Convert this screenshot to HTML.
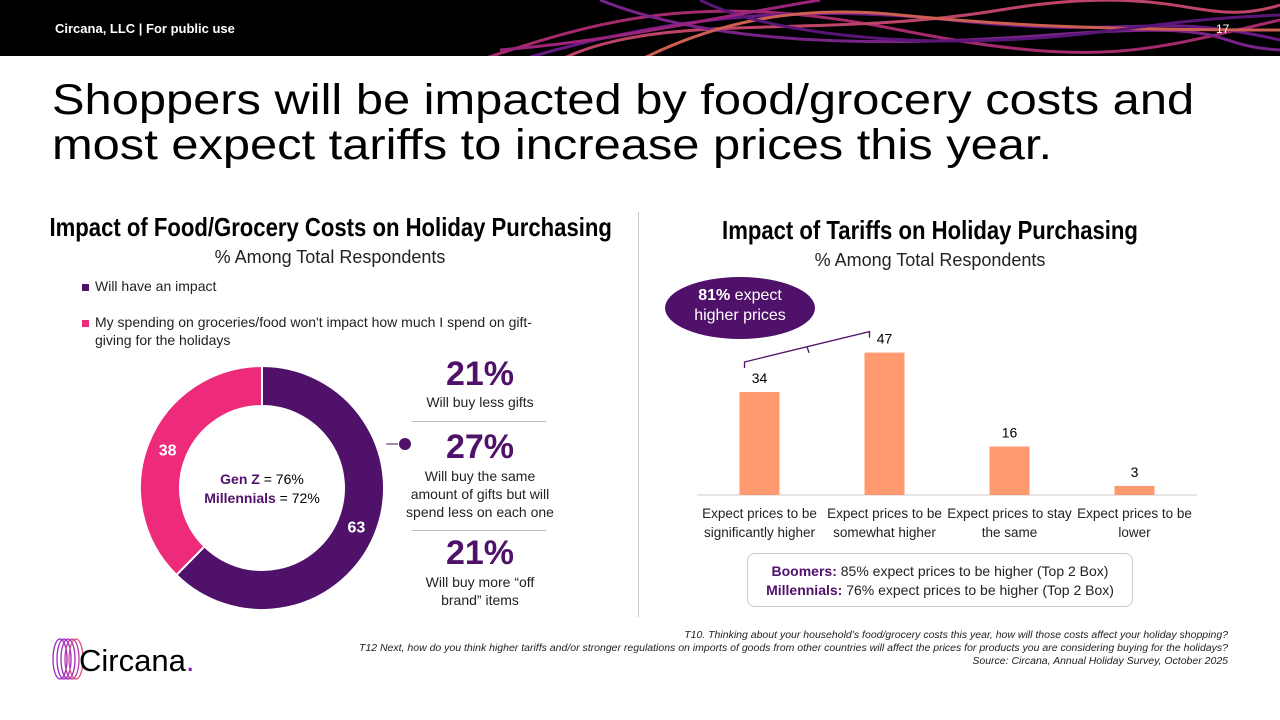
<!DOCTYPE html>
<html><head><meta charset="utf-8">
<style>
body{margin:0;width:1280px;height:720px;background:#fff;font-family:"Liberation Sans",sans-serif;position:relative;overflow:hidden}
.abs{position:absolute}
.cond{font-family:"Liberation Sans Narrow","Liberation Sans",sans-serif;white-space:nowrap}
</style></head><body>
<svg class="abs" style="left:0;top:0" width="1280" height="56">
<rect width="1280" height="56" fill="#000"/>
<g fill="none" stroke-width="3" opacity="0.85">
<path d="M480 60 C600 20 700 -10 900 30 S1150 50 1280 20" stroke="#c2327f"/>
<path d="M520 60 C620 30 760 0 950 20 S1150 10 1280 40" stroke="#7a1f9c"/>
<path d="M560 60 C660 10 820 40 1000 10 S1200 30 1280 5" stroke="#e0507a"/>
<path d="M600 0 C700 40 850 50 1050 35 S1200 45 1280 50" stroke="#8e2aa0"/>
<path d="M640 60 C720 20 800 5 900 15 S1100 30 1280 30" stroke="#f07060"/>
<path d="M700 0 C760 30 880 45 1000 40 S1150 20 1280 15" stroke="#6a1a8c"/>
<path d="M500 50 C620 40 700 20 820 0" stroke="#b82a90"/>
</g>
<text x="55" y="33" fill="#fff" font-size="13" font-weight="bold" font-family="Liberation Sans Narrow,Liberation Sans,sans-serif">Circana, LLC |  For public use</text>
<text x="1216" y="33" fill="#fff" font-size="12">17</text>
</svg>
<div class="abs" style="left:52px;top:78px;font-size:43px;line-height:45px;color:#000;white-space:nowrap;transform:scaleX(1.135);transform-origin:0 0">Shoppers will be impacted by food/grocery costs and<br>most expect tariffs to increase prices this year.</div>
<div class="abs" style="left:638px;top:212px;width:1px;height:405px;background:#ccc"></div>

<div class="abs cond" style="left:0;width:660px;text-align:center;top:212px;font-size:26px;font-weight:bold;transform:scaleX(0.85)">Impact of Food/Grocery Costs on Holiday Purchasing</div>
<div class="abs" style="left:0;width:660px;text-align:center;top:247px;font-size:18px;color:#222">% Among Total Respondents</div>
<div class="abs" style="left:82px;top:278px;font-size:14px;color:#222"><span style="display:inline-block;width:7px;height:7px;background:#4f1169;margin-right:6px"></span>Will have an impact</div>
<div class="abs" style="left:82px;top:313px;width:470px;font-size:14px;line-height:18px;color:#222"><span style="display:inline-block;width:7px;height:7px;background:#ee2a7b;margin-right:6px"></span>My spending on groceries/food won't impact how much I spend on gift-<br><span style="margin-left:13px">giving for the holidays</span></div>

<svg class="abs" style="left:130px;top:355px" width="420" height="270" id="donut"></svg>

<div class="abs" style="left:405px;width:150px;text-align:center;top:355px"><div style="font-size:34px;font-weight:bold;color:#4f1169">21%</div><div style="font-size:14px;color:#222">Will buy less gifts</div></div>
<div class="abs" style="left:412px;width:134px;top:421px;height:1px;background:#bbb"></div>
<div class="abs" style="left:400px;width:160px;text-align:center;top:428px"><div style="font-size:34px;font-weight:bold;color:#4f1169">27%</div><div style="font-size:14px;line-height:18px;color:#222">Will buy the same amount of gifts but will spend less on each one</div></div>
<div class="abs" style="left:412px;width:134px;top:530px;height:1px;background:#bbb"></div>
<div class="abs" style="left:405px;width:150px;text-align:center;top:534px"><div style="font-size:34px;font-weight:bold;color:#4f1169">21%</div><div style="font-size:14px;line-height:18px;color:#222">Will buy more “off<br>brand” items</div></div>

<div class="abs cond" style="left:640px;width:580px;text-align:center;top:215px;font-size:26px;font-weight:bold;transform:scaleX(0.85)">Impact of Tariffs on Holiday Purchasing</div>
<div class="abs" style="left:640px;width:580px;text-align:center;top:250px;font-size:18px;color:#222">% Among Total Respondents</div>
<div class="abs" style="left:665px;top:277px;width:150px;height:62px;border-radius:50%;background:#4f1169;color:#fff;text-align:center;font-size:16px;line-height:20px;padding-top:9px;box-sizing:border-box"><b>81%</b> expect<br>higher prices</div>
<svg class="abs" style="left:640px;top:320px" width="600" height="240" id="bars"></svg>
<div class="abs" style="left:747px;top:553px;width:386px;height:54px;border:1px solid #ccc;border-radius:8px;box-sizing:border-box;text-align:center;font-size:14px;line-height:19px;padding-top:8px;color:#222"><b style="color:#4f1169">Boomers:</b> 85% expect prices to be higher (Top 2 Box)<br><b style="color:#4f1169">Millennials:</b> 76% expect prices to be higher (Top 2 Box)</div>

<div class="abs" style="right:52px;top:629px;text-align:right;font-size:10.5px;line-height:13px;font-style:italic;color:#222">T10. Thinking about your household’s food/grocery costs this year, how will those costs affect your holiday shopping?<br>T12 Next, how do you think higher tariffs and/or stronger regulations on imports of goods from other countries will affect the prices for products you are considering buying for the holidays?<br>Source: Circana, Annual Holiday Survey, October 2025</div>
<svg class="abs" style="left:50px;top:638px" width="160" height="45">
<g fill="none" stroke="#9b2bc0" stroke-width="1.3">
<ellipse cx="10" cy="21" rx="7" ry="20"/><ellipse cx="14" cy="21" rx="7" ry="20"/><ellipse cx="18" cy="21" rx="7" ry="20"/><ellipse cx="22" cy="21" rx="7" ry="20" stroke="#c03aa0"/><ellipse cx="26" cy="21" rx="7" ry="20" stroke="#e05080"/></g>
<text x="29" y="33" font-size="31" fill="#000">Circana<tspan fill="#8a10c0">.</tspan></text>
</svg>

<script>
const donutLabels=["Will have an impact","Won't impact"];
const donutValues=[63,38];
const donutColors=["#4f1169","#ee2a7b"];
(function(){
const s=document.getElementById('donut'),ns="http://www.w3.org/2000/svg";
const cx=132,cy=133,R=122,r=82;
const tot=donutValues.reduce((a,b)=>a+b,0);let a0=-Math.PI/2;
donutValues.forEach((v,i)=>{
 const a1=a0+v/tot*2*Math.PI,lg=(a1-a0)>Math.PI?1:0;
 const p=(rr,a)=>[cx+rr*Math.cos(a),cy+rr*Math.sin(a)];
 const [x1,y1]=p(R,a0),[x2,y2]=p(R,a1),[x3,y3]=p(r,a1),[x4,y4]=p(r,a0);
 const path=document.createElementNS(ns,'path');
 path.setAttribute('d',`M${x1} ${y1}A${R} ${R} 0 ${lg} 1 ${x2} ${y2}L${x3} ${y3}A${r} ${r} 0 ${lg} 0 ${x4} ${y4}Z`);
 path.setAttribute('fill',donutColors[i]);path.setAttribute('stroke','#fff');path.setAttribute('stroke-width','2');
 
 
 s.appendChild(path);
 const am=(a0+a1)/2,[lx,ly]=p((R+r)/2,am);
 const t=document.createElementNS(ns,'text');t.setAttribute('x',lx);t.setAttribute('y',ly+6);t.setAttribute('text-anchor','middle');
 t.setAttribute('fill','#fff');t.setAttribute('font-size','16');t.setAttribute('font-weight','bold');t.textContent=v;
 
 
 s.appendChild(t);
 a0=a1;});
const c=document.createElementNS(ns,'text');c.setAttribute('x',cx);c.setAttribute('y',cy-4);c.setAttribute('text-anchor','middle');c.setAttribute('font-size','14');
c.innerHTML='<tspan font-weight="bold" fill="#4f1169">Gen Z</tspan> = 76%<tspan x="'+cx+'" dy="19" font-weight="bold" fill="#4f1169">Millennials</tspan> = 72%';


s.appendChild(c);
const l=document.createElementNS(ns,'line');l.setAttribute('x1',cx+Math.cos(-0.12)*R+3);l.setAttribute('y1',cy-44);l.setAttribute('x2',268);l.setAttribute('y2',cy-44);
l.setAttribute('stroke','#4f1169');


s.appendChild(l);
const d=document.createElementNS(ns,'circle');d.setAttribute('cx',275);d.setAttribute('cy',cy-44);d.setAttribute('r',6);d.setAttribute('fill','#4f1169');


s.appendChild(d);
})();

const barCats=[["Expect prices to be","significantly higher"],["Expect prices to be","somewhat higher"],["Expect prices to stay","the same"],["Expect prices to be","lower"]];
const barValues=[34,47,16,3];
(function(){
const s=document.getElementById('bars'),ns="http://www.w3.org/2000/svg";
const base=175,x0=57,x1=557,k=3.03,bw=40;
const xc=i=>x0+(x1-x0)/barCats.length*(i+0.5);
const y=v=>base-v*k;
const ax=document.createElementNS(ns,'line');ax.setAttribute('x1',x0);ax.setAttribute('x2',x1);ax.setAttribute('y1',base);ax.setAttribute('y2',base);ax.setAttribute('stroke','#ccc');


s.appendChild(ax);
barValues.forEach((v,i)=>{
 const r=document.createElementNS(ns,'rect');r.setAttribute('x',xc(i)-bw/2);r.setAttribute('y',y(v));r.setAttribute('width',bw);r.setAttribute('height',v*k);r.setAttribute('fill','#ff9a70');
 
 
 s.appendChild(r);
 const t=document.createElementNS(ns,'text');t.setAttribute('x',xc(i));t.setAttribute('y',y(v)-9);t.setAttribute('text-anchor','middle');t.setAttribute('font-size','14');t.textContent=v;
 
 
 s.appendChild(t);
 barCats[i].forEach((ln,j)=>{const c=document.createElementNS(ns,'text');c.setAttribute('x',xc(i));c.setAttribute('y',base+23+j*19);c.setAttribute('text-anchor','middle');c.setAttribute('font-size','13.5');c.setAttribute('fill','#222');c.textContent=ln;
 
 
 s.appendChild(c);});
});
const yl=y(barValues[0])-30, yr=y(barValues[1])-15;
const lx=xc(0)-15, rx=xc(1)-15;
const br=document.createElementNS(ns,'path');
br.setAttribute('d',`M${lx} ${yl+6} L${lx} ${yl} L${rx} ${yr-6} L${rx} ${yr} M${(lx+rx)/2} ${(yl+yr-6)/2} l2 6`);
br.setAttribute('fill','none');br.setAttribute('stroke','#4f1169');br.setAttribute('stroke-width','1.3');


s.appendChild(br);
})();
</script>
</body></html>
